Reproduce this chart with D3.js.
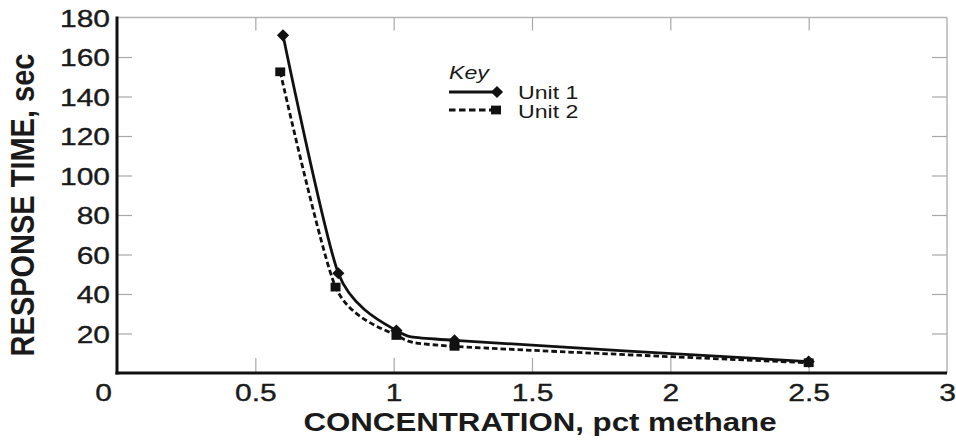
<!DOCTYPE html>
<html>
<head>
<meta charset="utf-8">
<script src="https://cdn.jsdelivr.net/npm/d3@7"></script>
<style>
  html, body { margin: 0; padding: 0; background: #fff; }
  svg { display: block; }
  text { font-family: "Liberation Sans", Arial, Helvetica, sans-serif; fill: #1a1a1a; }
</style>
</head>
<body>
<script>
// ---- data ----
const xTickValues = [0, 0.5, 1, 1.5, 2, 2.5, 3];
const yTickValues = [20, 40, 60, 80, 100, 120, 140, 160, 180];
const unit1Conc = [0.60, 0.80, 1.01, 1.22, 2.50];
const unit1Time = [171, 50.5, 21.5, 16.5, 5.8];
const unit2Conc = [0.59, 0.79, 1.01, 1.22, 2.50];
const unit2Time = [152.5, 43.5, 19, 13.5, 5.2];
const seriesNames = ["Unit 1", "Unit 2"];
const keyTitle = "Key";
const xTitle = "CONCENTRATION, pct methane";
const yTitle = "RESPONSE TIME, sec";

// ---- layout ----
const W = 956, H = 442;
const L = 117, R = 947, T = 17.5, B = 373;
const SX = 1.25; // horizontal text stretch

const svg = d3.select("body").append("svg").attr("width", W).attr("height", H);

const x = d3.scaleLinear().domain([0, 3]).range([L, R]);
const y = d3.scaleLinear().domain([0, 180]).range([B, T]);

// frame (top/right light)
svg.append("line").attr("x1", L).attr("x2", R).attr("y1", T).attr("y2", T)
  .attr("stroke", "#b5b5b5").attr("stroke-width", 1.5);
svg.append("line").attr("x1", R).attr("x2", R).attr("y1", T).attr("y2", B)
  .attr("stroke", "#b5b5b5").attr("stroke-width", 1.5);

// inner ticks
const innerX = xTickValues.filter(v => v > 0 && v < 3);
const innerY = yTickValues.filter(v => v < 180);
const gxB = svg.append("g").attr("transform", `translate(0,${B})`)
  .call(d3.axisBottom(x).tickValues(innerX).tickSize(-15).tickFormat(""));
const gxT = svg.append("g").attr("transform", `translate(0,${T})`)
  .call(d3.axisTop(x).tickValues(innerX).tickSize(-13).tickFormat(""));
const gyL = svg.append("g").attr("transform", `translate(${L},0)`)
  .call(d3.axisLeft(y).tickValues(innerY).tickSize(-15).tickFormat(""));
const gyR = svg.append("g").attr("transform", `translate(${R},0)`)
  .call(d3.axisRight(y).tickValues(innerY).tickSize(-15).tickFormat(""));
[gxB, gxT, gyL, gyR].forEach(g => {
  g.select(".domain").remove();
  g.selectAll(".tick line").attr("stroke", "#a8a8a8").attr("stroke-width", 1.2);
});

// tick labels via axes
const gxLab = svg.append("g").attr("transform", `translate(0,${B})`)
  .call(d3.axisBottom(x).tickValues(xTickValues).tickSize(0).tickFormat(d3.format("")));
gxLab.select(".domain").remove();
gxLab.selectAll(".tick text")
  .attr("font-size", 24).attr("font-family", null)
  .attr("stroke", "#1a1a1a").attr("stroke-width", 0.35)
  .attr("y", 0).attr("dy", 0)
  .attr("x", d => (d === 0 ? -14 : 0) / SX)
  .attr("transform", `translate(0,28) scale(${SX},1)`);

const gyLab = svg.append("g").attr("transform", `translate(${L},0)`)
  .call(d3.axisLeft(y).tickValues(yTickValues).tickSize(0));
gyLab.select(".domain").remove();
gyLab.selectAll(".tick text")
  .attr("font-size", 24).attr("font-family", null)
  .attr("stroke", "#1a1a1a").attr("stroke-width", 0.35)
  .attr("x", -7 / SX).attr("dy", "0.36em")
  .attr("transform", `scale(${SX},1)`);

// main axes (thick black)
svg.append("line").attr("x1", L).attr("x2", L).attr("y1", T - 1).attr("y2", B + 1.5)
  .attr("stroke", "#111").attr("stroke-width", 3);
svg.append("line").attr("x1", L - 1.5).attr("x2", R).attr("y1", B).attr("y2", B)
  .attr("stroke", "#111").attr("stroke-width", 3);

// series
const d1 = unit1Conc.map((c, i) => [c, unit1Time[i]]);
const d2 = unit2Conc.map((c, i) => [c, unit2Time[i]]);
const line = d3.line().x(d => x(d[0])).y(d => y(d[1])).curve(d3.curveCardinal.tension(0.3));

svg.append("path").attr("d", line(d2)).attr("fill", "none")
  .attr("stroke", "#111").attr("stroke-width", 2.8).attr("stroke-dasharray", "5.5,3");
svg.append("path").attr("d", line(d1)).attr("fill", "none")
  .attr("stroke", "#111").attr("stroke-width", 2.8);

const sq = d3.symbol().type(d3.symbolSquare).size(85);
const dia = d3.symbol().type(d3.symbolDiamond2).size(95);
svg.append("g").selectAll("path").data(d2).join("path")
  .attr("d", sq).attr("fill", "#111")
  .attr("transform", d => `translate(${x(d[0])},${y(d[1])}) scale(1.08,0.95)`);
svg.append("g").selectAll("path").data(d1).join("path")
  .attr("d", dia).attr("fill", "#111")
  .attr("transform", d => `translate(${x(d[0])},${y(d[1])})`);

// legend
const lg = svg.append("g");
lg.append("text").attr("transform", `translate(449,79) scale(${SX},1)`)
  .attr("font-size", 18.5).attr("font-style", "italic").text(keyTitle);
lg.append("line").attr("x1", 449).attr("x2", 497).attr("y1", 92).attr("y2", 92)
  .attr("stroke", "#111").attr("stroke-width", 2.8);
lg.append("path").attr("d", dia).attr("fill", "#111").attr("transform", "translate(497,92)");
lg.append("line").attr("x1", 449).attr("x2", 492).attr("y1", 110).attr("y2", 110)
  .attr("stroke", "#111").attr("stroke-width", 2.8).attr("stroke-dasharray", "6.5,3.5");
lg.append("path").attr("d", sq).attr("fill", "#111").attr("transform", "translate(496,110) scale(1.08,0.95)");
lg.append("text").attr("transform", `translate(518,99) scale(${SX},1)`)
  .attr("font-size", 18.5).text(seriesNames[0]);
lg.append("text").attr("transform", `translate(518,118) scale(${SX},1)`)
  .attr("font-size", 18.5).text(seriesNames[1]);

// axis titles
svg.append("text").attr("transform", `translate(540,431) scale(${SX},1)`)
  .attr("text-anchor", "middle").attr("font-size", 25).attr("font-weight", "bold").text(xTitle);
svg.append("text").attr("transform", `translate(34,205) scale(1.12,1) rotate(-90)`)
  .attr("text-anchor", "middle").attr("font-size", 29).attr("font-weight", "bold").text(yTitle);
</script>
</body>
</html>
